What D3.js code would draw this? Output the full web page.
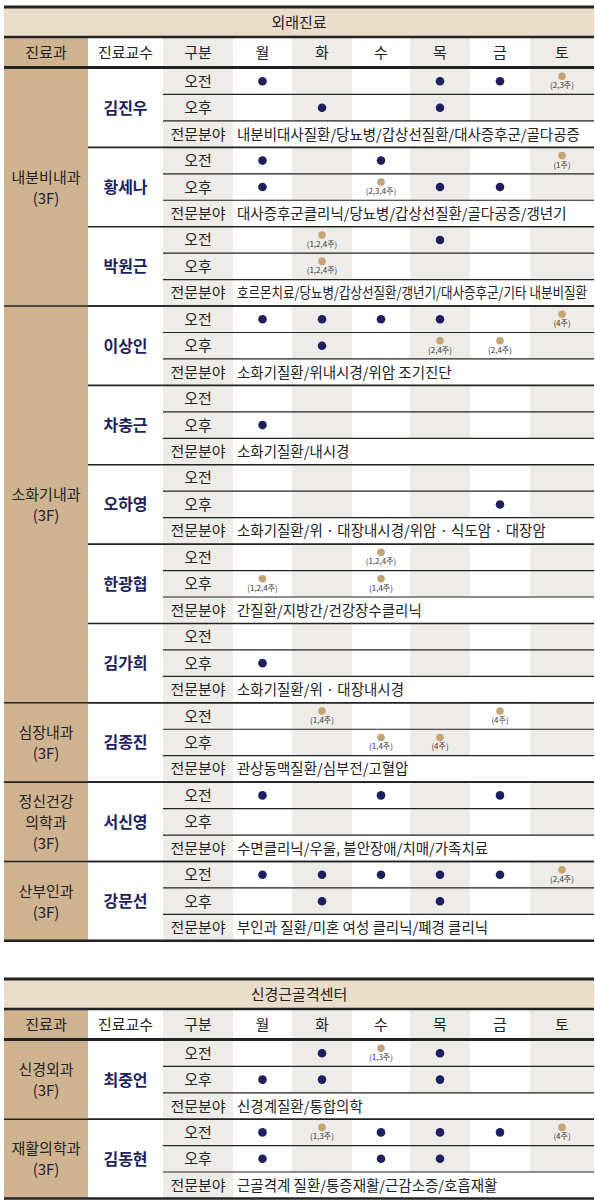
<!DOCTYPE html><html><head><meta charset="utf-8"><script src="https://d3js.org/d3.v7.min.js"></script>
<style>body{margin:0;background:#fff}text{font-family:"Noto Sans CJK KR",sans-serif}</style></head><body><script>
const days=["월","화","수","목","금","토"];
const headers=["진료과","진료교수","구분"];
const depts1=[["내분비내과","(3F)"],["소화기내과","(3F)"],["심장내과","(3F)"],["정신건강","의학과","(3F)"],["산부인과","(3F)"]];
const deptCounts1=[3,5,1,1,1];
const doctors1=["김진우","황세나","박원근","이상인","차충근","오하영","한광협","김가희","김종진","서신영","강문선"];
const am1=[["o","","","o","o","(2,3주)"],["o","","o","","","(1주)"],["","(1,2,4주)","","o","",""],["o","o","o","o","","(4주)"],["","","","","",""],["","","","","",""],["","","(1,2,4주)","","",""],["","","","","",""],["","(1,4주)","","","(4주)",""],["o","","o","","o",""],["o","o","o","o","o","(2,4주)"]];
const pm1=[["","o","","o","",""],["o","","(2,3,4주)","o","o",""],["","(1,2,4주)","","","",""],["","o","","(2,4주)","(2,4주)",""],["o","","","","",""],["","","","","o",""],["(1,2,4주)","","(1,4주)","","",""],["o","","","","",""],["","","(1,4주)","(4주)","",""],["","","","","",""],["","o","","o","",""]];
const spec1=["내분비대사질환/당뇨병/갑상선질환/대사증후군/골다공증","대사증후군클리닉/당뇨병/갑상선질환/골다공증/갱년기","호르몬치료/당뇨병/갑상선질환/갱년기/대사증후군/기타 내분비질환","소화기질환/위내시경/위암 조기진단","소화기질환/내시경","소화기질환/위 · 대장내시경/위암 · 식도암 · 대장암","간질환/지방간/건강장수클리닉","소화기질환/위 · 대장내시경","관상동맥질환/심부전/고혈압","수면클리닉/우울, 불안장애/치매/가족치료","부인과 질환/미혼 여성 클리닉/폐경 클리닉"];
const depts2=[["신경외과","(3F)"],["재활의학과","(3F)"]];
const deptCounts2=[1,1];
const doctors2=["최중언","김동현"];
const am2=[["","o","(1,3주)","o","",""],["o","(1,3주)","o","o","o","(4주)"]];
const pm2=[["o","o","","o","",""],["o","","o","o","",""]];
const spec2=["신경계질환/통합의학","근골격계 질환/통증재활/근감소증/호흡재활"];

const svg=d3.select("body").append("svg").attr("width",595).attr("height",1201);
const edges=[4,88,163,233,292,352,410,470,530,594];
const NAVY="#1d1f5e",TAN="#c2a475",DEPT="#cfb391",BAND="#e9ddc9",SHADE="#eeece8";
function table(y0,title,depts,counts,docs,am,pm,spec,rowH){
  const W=edges[9]-edges[0];
  const yT=y0, yH=y0+30, yR=yH+31;
  const nRows=docs.length*3;
  const y=d3.scaleLinear().domain([0,nRows]).range([yR,yR+nRows*rowH]);
  const yEnd=y(nRows);
  const g=svg.append("g");
  g.append("rect").attr("x",edges[0]).attr("y",yT).attr("width",W).attr("height",30).attr("fill",BAND);
  g.append("text").attr("x",(edges[0]+edges[9])/2).attr("y",yT+21).attr("text-anchor","middle").attr("font-size",15).attr("fill","#222").text(title);
  [2,4,6,8].forEach(i=>g.append("rect").attr("x",edges[i]).attr("y",yH).attr("width",edges[i+1]-edges[i]).attr("height",yEnd-yH).attr("fill",SHADE));
  g.append("rect").attr("x",edges[0]).attr("y",yH).attr("width",edges[1]-edges[0]).attr("height",yEnd-yH).attr("fill",DEPT);
  const hdr=headers.concat(days);
  hdr.forEach((h,i)=>g.append("text").attr("x",(edges[i]+edges[i+1])/2).attr("y",yH+21).attr("text-anchor","middle").attr("font-size",15).attr("fill","#222").text(h));
  docs.forEach((d,k)=>{
    g.append("rect").attr("x",edges[3]).attr("y",y(k*3+2)).attr("width",edges[9]-edges[3]).attr("height",rowH).attr("fill","#fff");
  });
  const line=(x1,x2,yy,w,c)=>g.append("line").attr("x1",x1).attr("x2",x2).attr("y1",yy).attr("y2",yy).attr("stroke",c||"#222").attr("stroke-width",w);
  line(edges[0],edges[9],yT,3);line(edges[0],edges[9],yH,2.5);line(edges[0],edges[9],yR-0.5,3);line(edges[0],edges[9],yEnd,2.5);
  let idx=0;
  counts.forEach((c,di)=>{
    const a=idx,b=idx+c;
    const lines=depts[di];const cy=(y(a*3)+y(b*3))/2;
    lines.forEach((t,li)=>g.append("text").attr("x",(edges[0]+edges[1])/2).attr("y",cy+(li-(lines.length-1)/2)*21+6).attr("text-anchor","middle").attr("font-size",15).attr("fill","#222").text(t));
    if(b<docs.length){line(edges[0],edges[9],y(b*3),1.6);}
    idx=b;
  });
  docs.forEach((d,k)=>{
    const r0=k*3;
    if(k>0)line(edges[1],edges[9],y(r0),1.6);
    line(edges[2],edges[9],y(r0+1),1.2);line(edges[2],edges[9],y(r0+2),1.2);
    g.append("text").attr("x",(edges[1]+edges[2])/2).attr("y",y(r0+1.5)+6).attr("text-anchor","middle").attr("font-size",16).attr("font-weight","bold").attr("fill",NAVY).text(d);
    ["오전","오후","전문분야"].forEach((t,j)=>g.append("text").attr("x",(edges[2]+edges[3])/2).attr("y",y(r0+j)+rowH/2+5.5).attr("text-anchor","middle").attr("font-size",15).attr("fill","#222").text(t));
    g.append("text").attr("class","spec").attr("x",edges[3]+4).attr("y",y(r0+2)+rowH/2+5.5).attr("font-size",14.5).attr("fill","#222").text(spec[k]);
    [am[k],pm[k]].forEach((row,j)=>row.forEach((v,c)=>{
      if(!v)return;const cx=(edges[c+3]+edges[c+4])/2, cy=y(r0+j)+rowH/2;
      if(v==="o"){g.append("circle").attr("cx",cx).attr("cy",cy).attr("r",4.3).attr("fill",NAVY);}
      else{g.append("circle").attr("cx",cx).attr("cy",cy-5).attr("r",3.8).attr("fill",TAN);
        g.append("text").attr("x",cx).attr("y",cy+7).attr("text-anchor","middle").attr("font-size",8).attr("fill","#333").text(v);}
    }));
  });
}
table(7,"외래진료",depts1,deptCounts1,doctors1,am1,pm1,spec1,26.45);
table(979,"신경근골격센터",depts2,deptCounts2,doctors2,am2,pm2,spec2,26.4);
svg.selectAll("text.spec").each(function(){const n=this;if(n.getComputedTextLength()>350){n.setAttribute("textLength",350);n.setAttribute("lengthAdjust","spacingAndGlyphs");}});
</script></body></html>
